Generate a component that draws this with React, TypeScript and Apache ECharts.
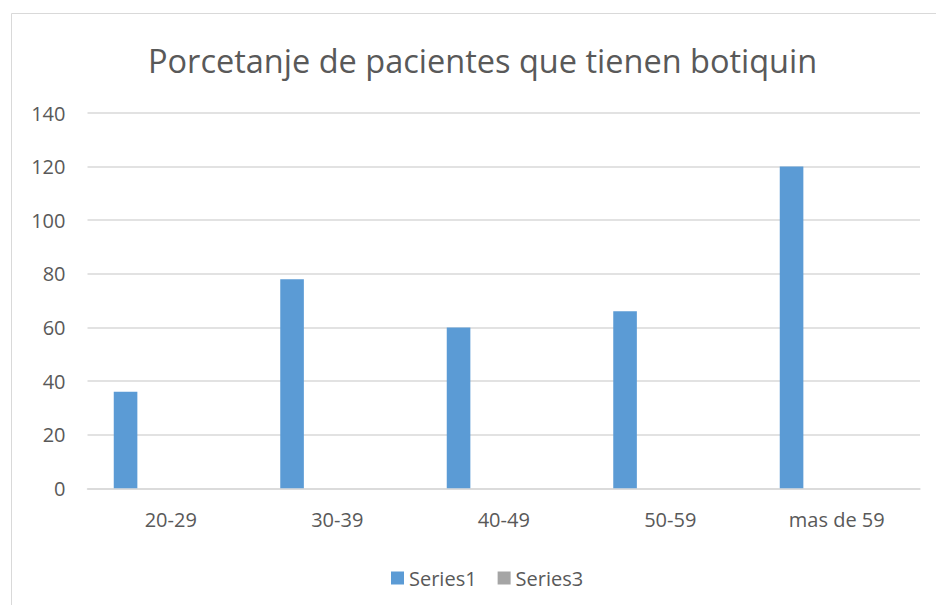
import React, { useEffect, useRef } from "react";
import * as echarts from "echarts";

const categories = ["20-29", "30-39", "40-49", "50-59", "mas de 59"];
const series1Values = [36, 78, 60, 66, 120];
const series3Values = [0, 0, 0, 0, 0];
const yTicks = { min: 0, max: 140, interval: 20 };
const titleText = "Porcetanje de pacientes que tienen botiquin";

const FONT = "'Open Sans', 'Noto Sans', sans-serif";
const TEXT = "#595959";

export default function App() {
  const ref = useRef<HTMLDivElement>(null);
  useEffect(() => {
    if (!ref.current) return;
    const chart = echarts.init(ref.current, null, { renderer: "svg" });
    chart.setOption({
      animation: false,
      backgroundColor: "#ffffff",
      graphic: [
        {
          type: "rect",
          shape: { x: 11.5, y: 13.5, width: 1100, height: 800 },
          style: { fill: "none", stroke: "#D9D9D9", lineWidth: 1 },
          silent: true,
          z: -10,
        },
      ],
      title: {
        text: titleText,
        left: 143,
        top: 39,
        textStyle: { fontFamily: FONT, fontSize: 32.5, fontWeight: "normal", color: TEXT },
      },
      legend: {
        left: 386,
        top: 563,
        itemWidth: 13,
        itemHeight: 13,
        itemGap: 21,
        icon: "rect",
        textStyle: { fontFamily: FONT, fontSize: 20, color: TEXT, padding: [0, 0, 0, 0] },
        data: ["Series1", "Series3"],
      },
      grid: { left: 87.5, right: 16, top: 113, bottom: 116.7, containLabel: false },
      xAxis: {
        type: "category",
        data: categories,
        axisLine: { show: true, lineStyle: { color: "#D9D9D9", width: 1.5 } },
        axisTick: { show: false },
        axisLabel: { fontFamily: FONT, fontSize: 20, color: TEXT, margin: 21 },
        splitLine: { show: false },
      },
      yAxis: {
        type: "value",
        min: yTicks.min,
        max: yTicks.max,
        interval: yTicks.interval,
        axisLine: { show: false },
        axisTick: { show: false },
        axisLabel: { fontFamily: FONT, fontSize: 20, color: TEXT, margin: 22 },
        splitLine: { show: true, lineStyle: { color: "#D9D9D9", width: 1.5 } },
      },
      series: [
        {
          name: "Series1",
          type: "bar",
          data: series1Values,
          barWidth: 23.6,
          barGap: "283%",
          itemStyle: { color: "#5B9BD5" },
        },
        {
          name: "Series3",
          type: "bar",
          data: series3Values,
          barWidth: 23.6,
          itemStyle: { color: "#A5A5A5" },
        },
      ],
    });
    return () => chart.dispose();
  }, []);
  return (
    <div
      ref={ref}
      style={{ position: "fixed", left: 0, top: 0, width: 936, height: 605 }}
    />
  );
}
